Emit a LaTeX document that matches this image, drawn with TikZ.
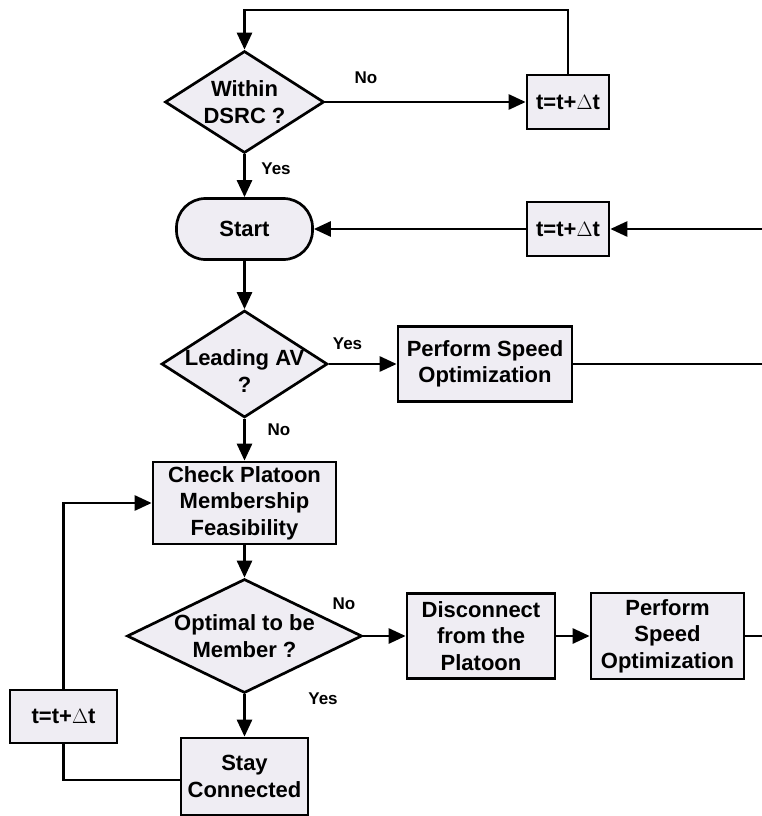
\documentclass[tikz,border=0pt]{standalone}
\usepackage{fontspec}
\setmainfont{Liberation Sans}
\usetikzlibrary{shapes.geometric,arrows.meta}
\definecolor{boxfill}{RGB}{239,237,243}
\tikzset{
  base/.style={draw=black, line width=2.7pt, fill=boxfill, inner sep=0pt,
    font=\fontsize{22pt}{26.5pt}\selectfont\bfseries, align=center},
  procbox/.style={base, rectangle},
  termbox/.style={base, rectangle, rounded corners=29pt},
  dia/.style={base, diamond},
  dlabel/.style={inner sep=0pt, align=center, font=\fontsize{22pt}{27pt}\selectfont\bfseries},
  lbl/.style={inner sep=0pt, font=\fontsize{17pt}{20pt}\selectfont\bfseries},
  conn/.style={line width=2.7pt, draw=black},
  arr/.style={conn, -{Triangle[length=17pt,width=15pt]}},
}
\begin{document}
\begin{tikzpicture}[x=1pt,y=-1pt]
\useasboundingbox (0,0) rectangle (762,816);
% nodes
\node[dia, minimum width=159pt, minimum height=102pt,
  label={[dlabel]center:Within\\DSRC ?}] (d1) at (244.5,102) {};
\node[procbox, minimum width=82pt, minimum height=54pt] (tA) at (568,102) {t=t+$\Delta$t};
\node[termbox, minimum width=136pt, minimum height=61pt] (start) at (244.5,229) {Start};
\node[procbox, minimum width=82pt, minimum height=54pt] (tB) at (568,229) {t=t+$\Delta$t};
\node[dia, minimum width=166pt, minimum height=107pt,
  label={[dlabel, yshift=-7pt]center:Leading AV\\?}] (d2) at (244.5,364) {};
\node[procbox, minimum width=174pt, minimum height=75pt] (pso1) at (485,364) {Perform Speed\\Optimization};
\node[procbox, minimum width=183pt, minimum height=82pt] (check) at (244.5,503) {Check Platoon\\Membership\\Feasibility};
\node[dia, minimum width=235pt, minimum height=114pt,
  label={[dlabel]center:Optimal to be\\Member ?}] (d3) at (244.5,636) {};
\node[procbox, minimum width=148pt, minimum height=85pt] (disc) at (481,636) {Disconnect\\from the\\Platoon};
\node[procbox, minimum width=153pt, minimum height=86pt] (pso2) at (667.5,636) {Perform\\Speed\\Optimization};
\node[procbox, minimum width=127pt, minimum height=77pt] (stay) at (244.5,776.5) {Stay\\Connected};
\node[procbox, minimum width=107pt, minimum height=53pt] (tC) at (63.5,716.5) {t=t+$\Delta$t};
% labels
\node[lbl] (lNo1) at (366,78) {No};
\node[lbl] (lYes1) at (276,168.5) {Yes};
\node[lbl] (lYes2) at (347.5,343.5) {Yes};
\node[lbl] (lNo2) at (279,430) {No};
\node[lbl] (lNo3) at (344,604) {No};
\node[lbl] (lYes3) at (323,699) {Yes};
% free ends
\coordinate (topy) at (0,10);
\coordinate (rin) at (762,229);
\coordinate (r1) at (762,364);
\coordinate (r2) at (762,636);
\coordinate (lowy) at (0,780);
% connectors
\draw[arr] (d1.east) -- (tA.west);
\draw[arr] (tA.north) -- (tA.north |- topy) -| (d1.north);
\draw[arr] (d1.south) -- (start.north);
\draw[arr] (rin) -- (tB.east);
\draw[arr] (tB.west) -- (start.east);
\draw[arr] (start.south) -- (d2.north);
\draw[arr] (d2.east) -- (pso1.west);
\draw[conn] (pso1.east) -- (r1);
\draw[arr] (d2.south) -- (check.north);
\draw[arr] (check.south) -- (d3.north);
\draw[arr] (d3.east) -- (disc.west);
\draw[arr] (disc.east) -- (pso2.west);
\draw[conn] (pso2.east) -- (r2);
\draw[arr] (d3.south) -- (stay.north);
\draw[conn] (stay.west |- lowy) -| (tC.south);
\draw[arr] (tC.north) |- (check.west);
\end{tikzpicture}
\end{document}
